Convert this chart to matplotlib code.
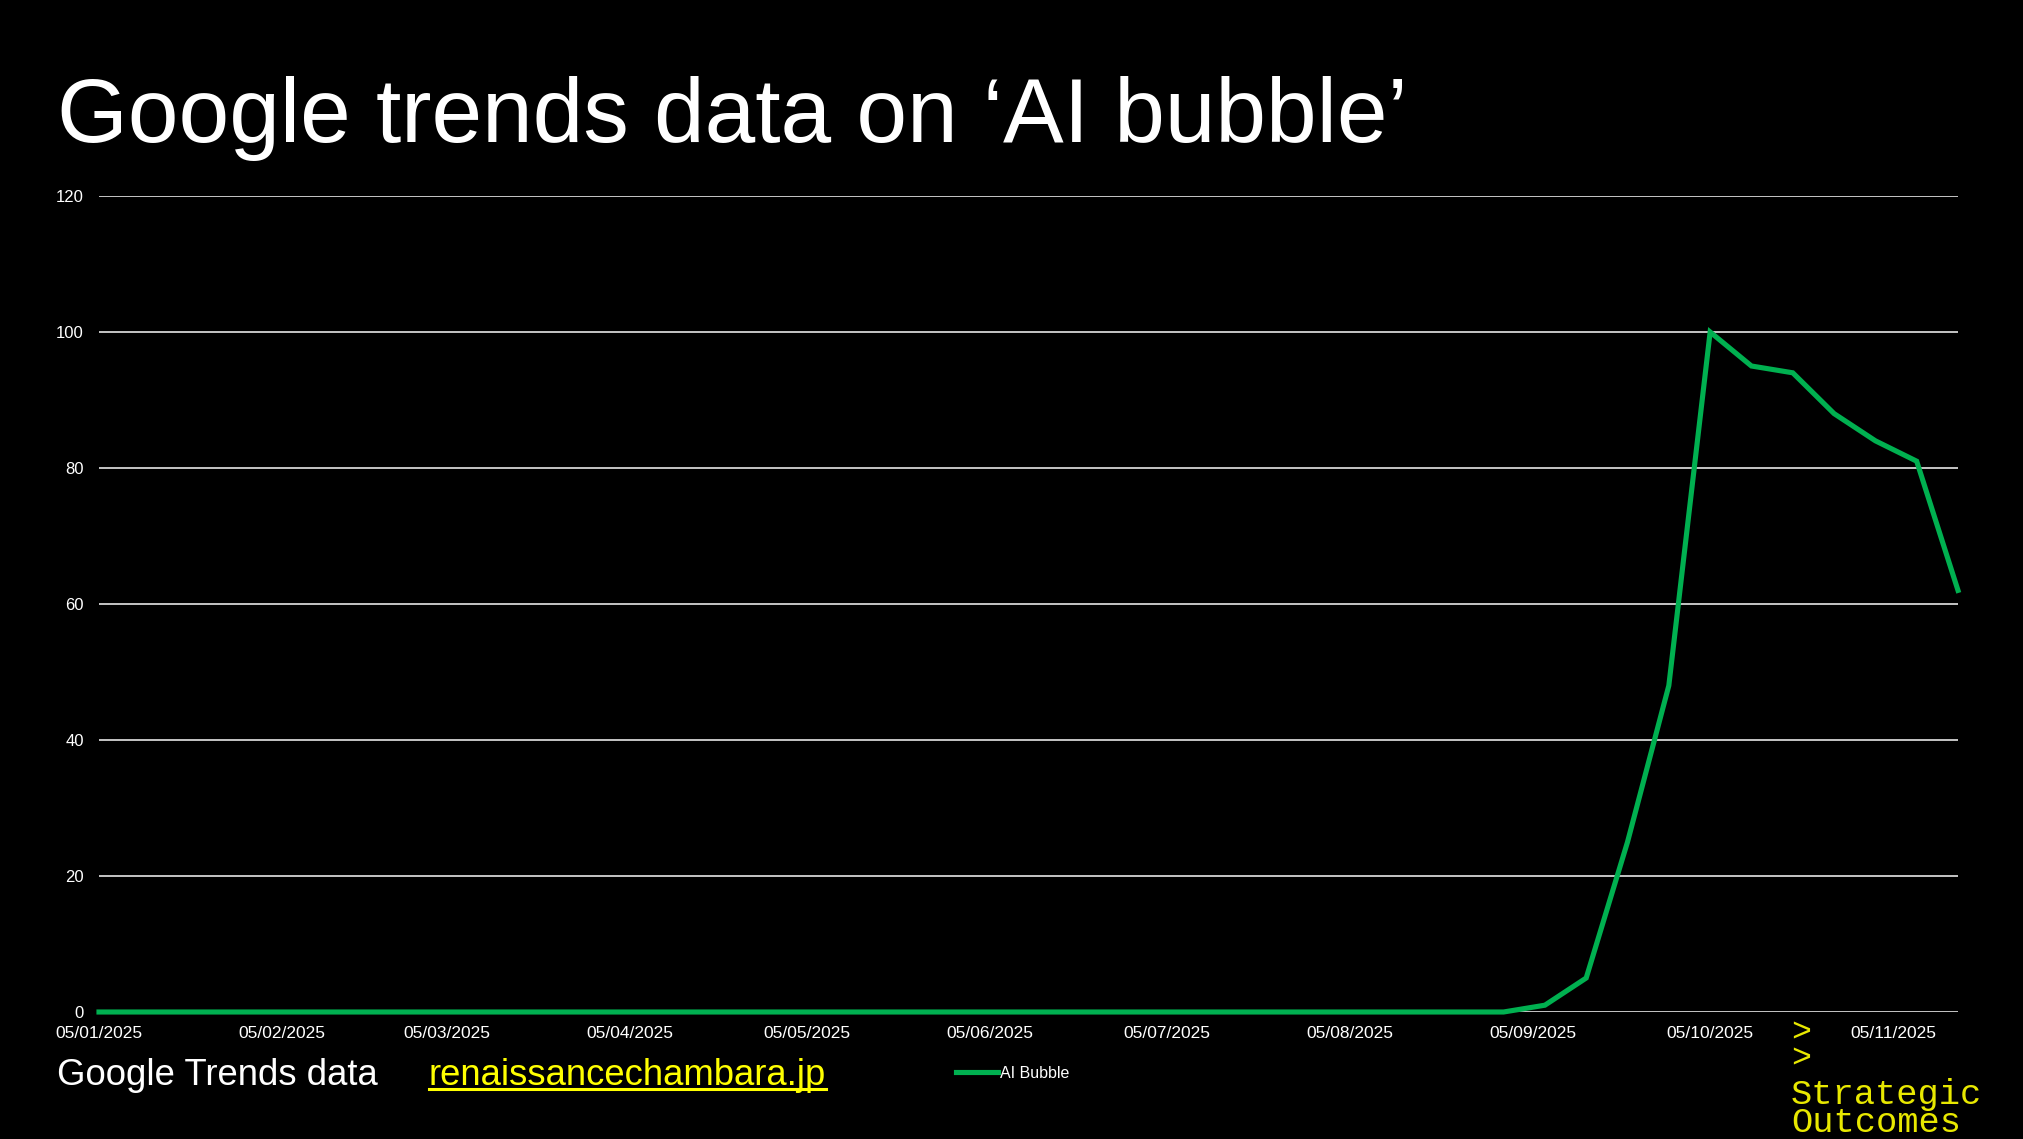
import pandas as pd
import matplotlib.pyplot as plt
import matplotlib.dates as mdates
import matplotlib.lines as mlines

# =========================
# data: weekly Google Trends interest for "AI bubble"
# =========================
week_start = "2025-01-05"
week_end = "2025-11-16"
interest = [0, 0, 0, 0, 0, 0, 0, 0, 0, 0,
            0, 0, 0, 0, 0, 0, 0, 0, 0, 0,
            0, 0, 0, 0, 0, 0, 0, 0, 0, 0,
            0, 0, 0, 0, 0, 1, 5, 25, 48, 100,
            95, 94, 88, 84, 81, 62]
tick_dates = ["2025-01-05", "2025-02-05", "2025-03-05", "2025-04-05",
              "2025-05-05", "2025-06-05", "2025-07-05", "2025-08-05",
              "2025-09-05", "2025-10-05", "2025-11-05"]
y_ticks = [0, 20, 40, 60, 80, 100, 120]
series_name = "AI Bubble"

weeks = pd.date_range(week_start, week_end, freq="7D")

W, H = 2024, 1139
fx = lambda px: px / W
fy = lambda py: 1 - py / H

plt.rcParams["font.family"] = ["Liberation Sans", "DejaVu Sans"]

fig = plt.figure(figsize=(W / 100, H / 100), dpi=100, facecolor="black")
ax = fig.add_axes([fx(99), fy(1012), fx(1958) - fx(99), fy(196) - fy(1012)])
ax.set_facecolor("black")

ax.plot(weeks, interest, color="#00B050", linewidth=3.7, solid_joinstyle="miter",
        clip_on=False, zorder=3)

# axes look
ax.set_ylim(0, 120)
ax.set_yticks(y_ticks)
ax.set_xlim(weeks[0], weeks[-1])
ax.set_xticks(pd.to_datetime(tick_dates))
ax.xaxis.set_major_formatter(mdates.DateFormatter("%d/%m/%Y"))
ax.grid(axis="y", color="#D4D4D4", linewidth=1.3)
ax.set_axisbelow(True)
for s in ax.spines.values():
    s.set_visible(False)
ax.tick_params(axis="y", length=0, pad=11, labelsize=12, labelcolor="white")
ax.tick_params(axis="x", length=0, pad=10, labelsize=12.5, labelcolor="white")

# title + footer texts
fig.text(fx(57), fy(142), "Google trends data on \u2018AI bubble\u2019",
         color="white", fontsize=65.5, va="baseline", ha="left")
fig.text(fx(57), fy(1085), "Google Trends data", color="white",
         fontsize=26.3, va="baseline", ha="left")
link = fig.text(fx(429), fy(1085), "renaissancechambara.jp", color="#FFFF00",
                fontsize=26.3, va="baseline", ha="left")

# underline for the link
fig.canvas.draw()
bb = link.get_window_extent(renderer=fig.canvas.get_renderer())
fig.add_artist(mlines.Line2D([fx(bb.x0), fx(bb.x1)], [fy(1089), fy(1089)],
                             transform=fig.transFigure, color="#FFFF00", linewidth=2.2))

# legend
handle = mlines.Line2D([], [], color="#00B050", linewidth=3.7, label=series_name)
fig.legend(handles=[handle], loc="center left", bbox_to_anchor=(fx(956), fy(1073)),
           frameon=False, borderpad=0, borderaxespad=0, handlelength=2.6,
           handletextpad=0.15, fontsize=11.5, labelcolor="white")

# logo
logo_font = ["Liberation Mono", "DejaVu Sans Mono"]
fig.text(fx(1791), fy(1068), ">\n>", color="#E8E800", fontsize=24,
         family=logo_font, va="baseline", ha="left", linespacing=0.8)
fig.text(fx(1791), fy(1132), "Strategic\nOutcomes", color="#E8E800", fontsize=25.5,
         family=logo_font, va="baseline", ha="left", linespacing=0.8)

fig.savefig("out.png", dpi=100, facecolor="black")
